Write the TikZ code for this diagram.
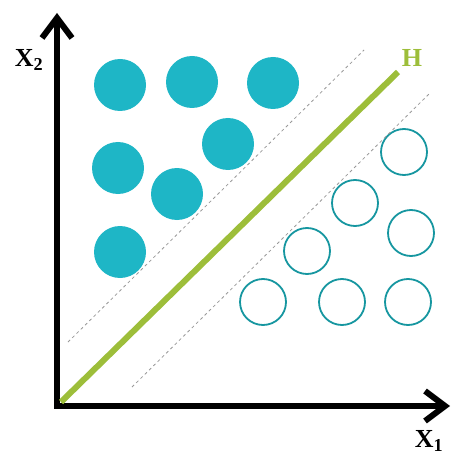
\documentclass[tikz,border=0pt]{standalone}
\usepackage{fontspec}
\setmainfont{Liberation Serif}
\usetikzlibrary{arrows.meta}
\definecolor{dotcyan}{RGB}{30,182,198}
\definecolor{ringteal}{RGB}{22,150,160}
\definecolor{hgreen}{RGB}{157,190,58}
\tikzset{>={Straight Barb[length=20pt,width=30pt]},axis/.style={line width=6pt,<->,line join=miter},
  filled/.style={circle,fill=dotcyan,inner sep=0pt,minimum size=52pt},
  hollow/.style={circle,draw=ringteal,line width=1.8pt,inner sep=0pt,minimum size=46pt},
  margin/.style={gray!80,dashed,line width=.8pt},lbl/.style={font=\bfseries\fontsize{26}{26}\selectfont}}

\begin{document}
\begin{tikzpicture}[x=1pt,y=-1pt]
\useasboundingbox (0,0) rectangle (451,457);
\coordinate (o) at (57,406);\coordinate (ytop) at (57,13);\coordinate (xend) at (450,406);
\draw[axis] (ytop) -- (o) -- (xend);
\node[lbl] (x2) at (29,60) {X\textsubscript{2}};\node[lbl] (x1) at (429,441) {X\textsubscript{1}};
% classe pleine / classe vide
\foreach \p [count=\i] in {(120,85),(192,82),(273,83),(228,144),(118,168),(177,194),(120,252)}{\node[filled] (a\i) at \p {};}
\foreach \p [count=\i] in {(404,152),(355,203),(411,233),(307,251),(263,302),(342,302),(408,302)}{\node[hollow] (b\i) at \p {};}
\coordinate (h0) at (61,402);\coordinate (h1) at (398,72);
\coordinate (u0) at (68,342);\coordinate (u1) at (364,50);
\coordinate (l0) at (132,387);\coordinate (l1) at (429,94);
\draw[margin] (u0) -- (u1);\draw[margin] (l0) -- (l1);
\draw[hgreen,line width=6pt] (h0) -- (h1);
\node[lbl,text=hgreen] (h) at (412,58) {H};
\end{tikzpicture}
\end{document}
